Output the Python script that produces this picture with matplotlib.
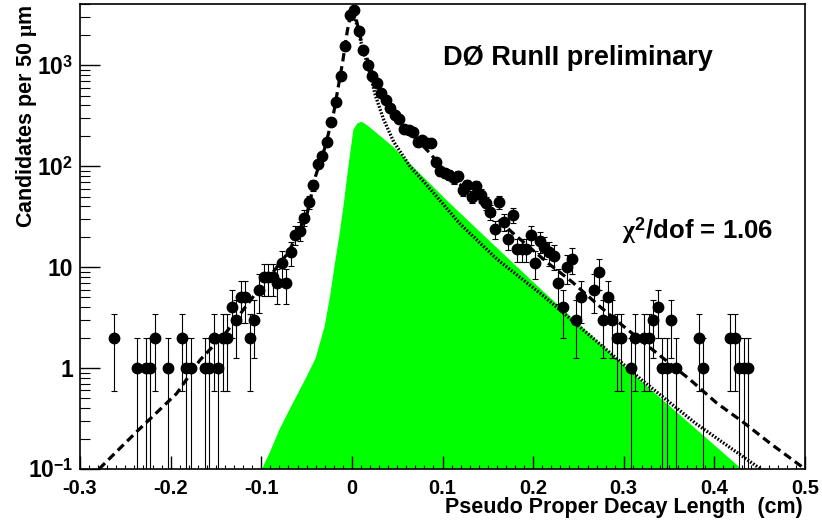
import numpy as np
import matplotlib.pyplot as plt
from matplotlib.ticker import MultipleLocator, NullFormatter, LogLocator

plt.rcParams['font.family'] = 'Liberation Sans'
plt.rcParams['font.weight'] = 'bold'
plt.rcParams['mathtext.fontset'] = 'custom'
plt.rcParams['mathtext.rm'] = 'Liberation Sans:bold'
plt.rcParams['mathtext.bf'] = 'Liberation Sans:bold'
plt.rcParams['mathtext.it'] = 'Liberation Serif'
plt.rcParams['lines.scale_dashes'] = False

# data: bin centres (cm) and candidates per 50 um bin
bin_x = [-0.2625, -0.2375, -0.2275, -0.2225, -0.2175, -0.2025, -0.1875, -0.1825,
         -0.1775, -0.1625, -0.1575, -0.1525, -0.1475, -0.1425, -0.1375, -0.1325,
         -0.1275, -0.1225, -0.1175, -0.1125, -0.1075, -0.1025, -0.0975, -0.0925,
         -0.0875, -0.0825, -0.0775, -0.0725, -0.0675, -0.0625, -0.0575, -0.0525,
         -0.0475, -0.0425, -0.0375, -0.0325, -0.0275, -0.0225, -0.0175, -0.0125,
         -0.0075, -0.0025, 0.0025, 0.0075, 0.0125, 0.0175, 0.0225, 0.0275,
         0.0325, 0.0375, 0.0425, 0.0475, 0.0525, 0.0575, 0.0625, 0.0675,
         0.0725, 0.0775, 0.0825, 0.0875, 0.0925, 0.0975, 0.1025, 0.1075,
         0.1125, 0.1175, 0.1225, 0.1275, 0.1325, 0.1375, 0.1425, 0.1475,
         0.1525, 0.1575, 0.1625, 0.1675, 0.1725, 0.1775, 0.1825, 0.1875,
         0.1925, 0.1975, 0.2025, 0.2075, 0.2125, 0.2175, 0.2225, 0.2275,
         0.2325, 0.2375, 0.2425, 0.2475, 0.2525, 0.2675, 0.2725, 0.2775,
         0.2825, 0.2875, 0.2925, 0.2975, 0.3075, 0.3125, 0.3225, 0.3275,
         0.3325, 0.3375, 0.3425, 0.3475, 0.3525, 0.3575, 0.3825, 0.3875,
         0.4175, 0.4225, 0.4275, 0.4325, 0.4375]
counts = [2, 1, 1, 1, 2, 1, 2, 1,
          1, 1, 1, 2, 1, 2, 2, 4,
          3, 5, 5, 2, 3, 6, 8, 8,
          8, 7, 11, 7, 14, 21, 23, 31,
          44, 65, 106, 125, 174, 275, 434, 777,
          1550, 3160, 3500, 2180, 1410, 1000, 777, 660,
          525, 456, 380, 320, 290, 236, 227, 220,
          174, 180, 168, 170, 110, 89, 85, 82,
          76, 80, 58, 65, 50, 63, 52, 43,
          35, 24, 44, 28, 19, 33, 15, 15,
          15, 21, 11, 18, 16, 14, 13, 7,
          4, 10, 12, 3, 5, 6, 9, 3,
          5, 3, 2, 2, 1, 2, 2, 2,
          3, 4, 1, 1, 3, 1, 2, 1,
          2, 2, 1, 1, 1]

# total fit (dashed)
fit_x = [-0.279, -0.2375, -0.1933, -0.1676, -0.138, -0.1088, -0.094, -0.07, -0.05,
         -0.04, -0.03, -0.02, -0.01, -0.005, 0.0, 0.005, 0.01, 0.02, 0.03, 0.04,
         0.05, 0.06, 0.07, 0.086, 0.1, 0.12, 0.14, 0.176, 0.2167, 0.2425, 0.2738,
         0.2995, 0.3326, 0.373, 0.4026, 0.432, 0.4614, 0.4908, 0.5]
fit_y = [0.1, 0.234, 0.56, 1.2, 2.3, 5.1, 7.4, 14, 32,
         80, 150, 340, 1100, 2200, 3650, 2800, 1800, 950, 620, 420,
         310, 240, 190, 135, 95, 65, 45, 22.4, 10.9, 7.2, 4.06,
         2.6, 1.5, 0.77, 0.45, 0.29, 0.18, 0.115, 0.1]

# background component (dotted)
bkg_x = [-0.002, 0.0, 0.005, 0.01, 0.018, 0.026, 0.035, 0.046, 0.064, 0.086,
         0.119, 0.16, 0.21, 0.26, 0.32, 0.38, 0.451]
bkg_y = [3000, 3500, 2600, 1700, 960, 500, 290, 175, 100, 60,
         27, 12, 5.3, 2.2, 0.76, 0.28, 0.1]

# signal component (green)
sig_x = [-0.0992, -0.09, -0.08, -0.07, -0.06, -0.05, -0.04, -0.03, -0.024,
         -0.019, -0.014, -0.009, -0.004, 0.0016, 0.006, 0.0108, 0.016, 0.0236,
         0.0457, 0.0678, 0.1046, 0.1377, 0.2076, 0.3179, 0.4301]
sig_y = [0.1, 0.15, 0.245, 0.37, 0.55, 0.82, 1.25, 2.6, 5.2,
         10.5, 20, 42, 97, 229, 265, 275, 258, 227,
         155, 98, 46, 24, 6.15, 0.76, 0.1]

xtick_vals = [-0.3, -0.2, -0.1, 0.0, 0.1, 0.2, 0.3, 0.4, 0.5]
xtick_labels = ['-0.3', '-0.2', '-0.1', '0', '0.1', '0.2', '0.3', '0.4', '0.5']
ytick_vals = [0.1, 1, 10, 100, 1000]
ytick_labels = ['10$^{-1}$', '1', '10', '10$^{2}$', '10$^{3}$']

W, H = 822, 525
fig = plt.figure(figsize=(W / 100, H / 100), dpi=100)
ax = fig.add_axes([80 / W, 1 - 469 / H, 725 / W, 465 / H])

ax.fill_between(sig_x, sig_y, 1e-3, color='#00ff00', lw=0, zorder=1)
ax.plot(bkg_x, bkg_y, color='k', lw=2.4, linestyle=(0, (1.2, 1.2)), zorder=2)
ax.plot(fit_x, fit_y, color='k', lw=2.3, linestyle=(0, (6, 3.5)), zorder=3)

counts = np.array(counts, dtype=float)
err = np.sqrt(counts)
ax.errorbar(bin_x, counts, yerr=err, fmt='o', color='k', ms=7.5, elinewidth=0.8,
            capsize=2.5, capthick=0.8, zorder=4)

ax.set_yscale('log', nonpositive='clip')
ax.set_xlim(-0.3, 0.5)
ax.set_ylim(0.1, 4040)

ax.set_xticks(xtick_vals, xtick_labels)
ax.xaxis.set_minor_locator(MultipleLocator(0.01))
ax.set_yticks(ytick_vals, ytick_labels)
ax.yaxis.set_minor_locator(LogLocator(base=10, subs=np.arange(2, 10)))
ax.yaxis.set_minor_formatter(NullFormatter())

ax.tick_params(which='both', direction='in', top=False, right=False)
ax.tick_params(axis='x', which='major', length=9.5, width=1, labelsize=14.5, pad=7)
ax.tick_params(axis='x', which='minor', length=3, width=0.8)
ax.tick_params(axis='y', which='major', length=14.5, width=1, labelsize=16.5, pad=5)
ax.tick_params(axis='y', which='minor', length=7.5, width=0.8)
for s in ax.spines.values():
    s.set_linewidth(1.2)

fig.text(443 / W, 1 - 65 / H, 'DØ RunII preliminary', fontsize=19.5,
         ha='left', va='baseline')
fig.text(622 / W, 1 - 239 / H, r'$\chi^{2}$/dof = 1.06', fontsize=18.5,
         ha='left', va='baseline')
fig.text(803 / W, 1 - 513 / H, 'Pseudo Proper Decay Length  (cm)', fontsize=15.5,
         ha='right', va='baseline')
fig.text(32 / W, 1 - 5 / H, r'Candidates per 50 $\mu$m', fontsize=15.5,
         rotation=90, rotation_mode='anchor', ha='right', va='baseline')

fig.savefig('out.png', dpi=100)
